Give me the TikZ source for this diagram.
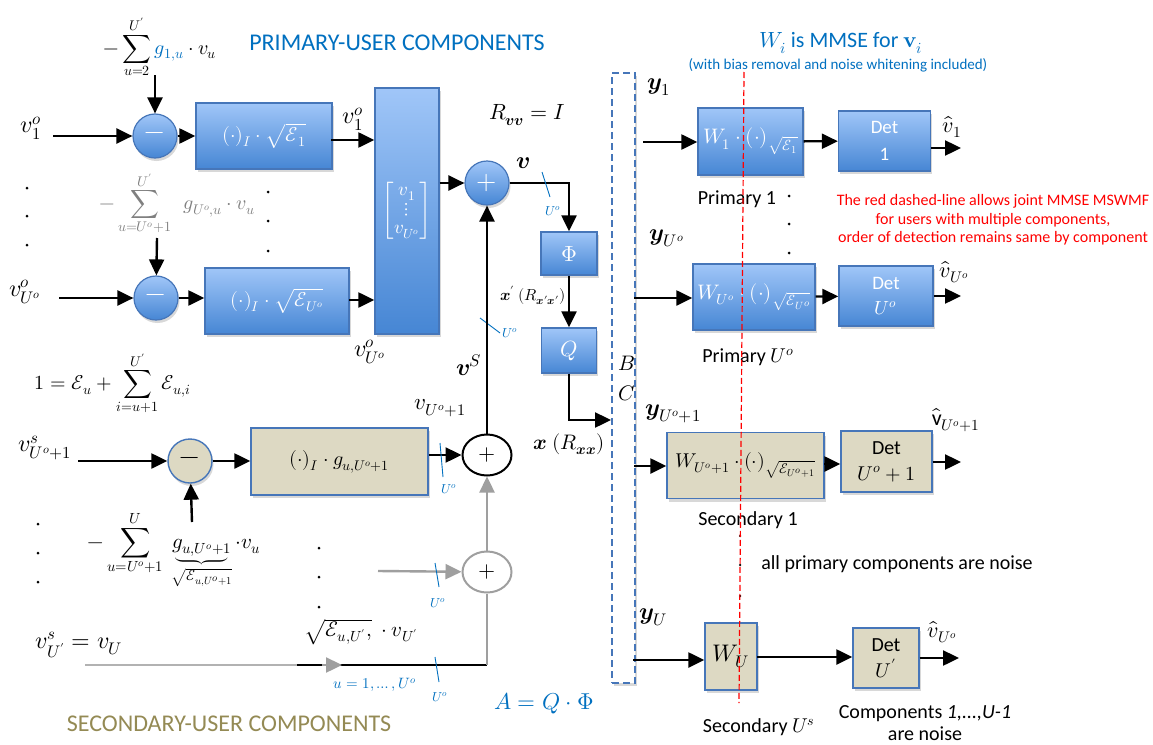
\documentclass[tikz,border=0pt]{standalone}
\usepackage{amsmath}
\usepackage{unicode-math}
\setmainfont{Carlito}
\setmathfont{Latin Modern Math}
\usetikzlibrary{arrows.meta,shadows,shapes.geometric}
\definecolor{pblue}{RGB}{0,112,192}
\definecolor{olivec}{RGB}{148,138,84}
\definecolor{bxtop}{RGB}{160,198,248}
\definecolor{bxbot}{RGB}{70,134,212}
\definecolor{bxdraw}{RGB}{70,118,185}
\definecolor{tanc}{RGB}{221,217,195}
\newcommand\fsz[1]{\fontsize{#1}{#1}\selectfont}
\tikzset{
  lab/.style={inner sep=0pt},
  shd/.style={drop shadow={opacity=0.3,shadow xshift=1.5pt,shadow yshift=-3pt}},
  bbox/.style={rectangle, draw=bxdraw, line width=1.4pt, top color=bxtop, bottom color=bxbot, text=white, shd, inner sep=0pt},
  tbox/.style={rectangle, draw=bxdraw, line width=1.4pt, fill=tanc, text=black, shd, inner sep=0pt},
  bcirc/.style={circle, draw=bxdraw, line width=1.2pt, top color=bxtop, bottom color=bxbot, text=white, minimum size=44pt, shd, inner sep=0pt},
  tcirc/.style={circle, draw=bxdraw, line width=1.4pt, fill=tanc, minimum size=44pt, shd, inner sep=0pt},
  kell/.style={ellipse, draw=black, line width=2pt, fill=white, minimum width=49pt, minimum height=41pt, inner sep=0pt},
  gell/.style={ellipse, draw=gray!75, line width=2pt, fill=white, minimum width=49pt, minimum height=41pt, inner sep=0pt},
  arr/.style={line width=2.4pt, -{Triangle[length=16pt,width=15pt]}},
  garr/.style={line width=2.4pt, draw=gray!75, -{Triangle[length=16pt,width=15pt]}},
  tickm/.style={draw=pblue, line width=0.9pt},
  ulab/.style={text=pblue, font=\fsz{13}, inner sep=0pt},
  pdot/.style={circle, fill=black, minimum size=3pt, inner sep=0pt},
}
\begin{document}
\begin{tikzpicture}[x=1pt,y=-1pt]
\useasboundingbox (0,0) rectangle (1153,744);
\fill[white] (0,0) rectangle (1153,744);

% titles
\node[lab,font=\fsz{24},text=pblue] (ptitle) at (397,43) {PRIMARY-USER COMPONENTS};
\node[lab,font=\fsz{24},text=olivec] (stitle) at (229,724) {SECONDARY-USER COMPONENTS};

% ---------- primary left
\node[lab,font=\fsz{20}] (sumA) at (160,47) {$-\displaystyle\sum_{u=2}^{U'}{\color{pblue}g_{1,u}}\cdot v_u$};
\coordinate (sAe) at (155,75);
\node[bcirc,font=\fsz{26}] (c1) at (155,136) {$-$};
\node[lab,font=\fsz{24}] (lv1) at (31,128) {$v_1^o$};
\coordinate (in1) at (53,136);
\draw[arr] (in1) -- (c1);
\draw[arr] (sAe) -- (c1);
\node[bbox,minimum width=136pt,minimum height=66pt,font=\fsz{20}] (b1) at (264,136) {$(\cdot)_I\cdot\sqrt{\mathcal{E}_1}$};
\draw[arr] (c1) -- (b1);
\node[bbox,minimum width=64pt,minimum height=246pt,font=\fsz{19}] (tall) at (407,211) {$\begin{bmatrix}v_1\\ \vdots\\ v_{U^o}\end{bmatrix}$};
\coordinate (b1o) at (331,140);
\draw[arr] (b1o) -- (b1o -| tall.west);
\node[lab,font=\fsz{24}] (lv1o) at (353,119) {$v_1^o$};

\node[lab,font=\fsz{20},text=gray] (sumB) at (177,203) {$-\displaystyle\sum_{u=U^o+1}^{U'}\ \ g_{U^o,u}\cdot v_u$};
\coordinate (sBe) at (157,238);
\node[bcirc,font=\fsz{26}] (c2) at (156,298) {$-$};
\draw[arr] (sBe) -- (c2);
\node[lab,font=\fsz{24}] (lvU) at (25,292) {$v_{U^o}^o$};
\coordinate (in2) at (59,298);
\draw[arr] (in2) -- (c2);
\node[bbox,minimum width=144pt,minimum height=66pt,font=\fsz{20}] (b2) at (277,301) {$(\cdot)_I\cdot\sqrt{\mathcal{E}_{U^o}}$};
\draw[arr] (c2) -- (c2 -| b2.west);
\coordinate (b2o) at (349,300);
\draw[arr] (b2o) -- (b2o -| tall.west);
\node[lab,font=\fsz{24}] (lvUo) at (370,352) {$v_{U^o}^o$};

\foreach \yy in {188,216,245} \node[pdot] at (27,\yy) {};
\foreach \yy in {192,221,251} \node[pdot] at (268,\yy) {};

% ---------- middle
\node[lab,font=\fsz{22}] (Rvv) at (527,115) {$R_{\symbfit{v}\symbfit{v}}=I$};
\node[bcirc,font=\fsz{26}] (cp) at (487,183) {$+$};
\draw[arr] (tall.east |- cp) -- (cp);
\node[lab,font=\fsz{24}] (lv) at (523,163) {$\symbfit{v}$};
\node[bbox,minimum width=56pt,minimum height=43pt,font=\fsz{22}] (phi) at (569,253.5) {$\Phi$};
\draw[arr] (cp) -| (phi);
\node[lab,font=\fsz{16}] (lxp) at (533,295) {$\symbfit{x}'\ (R_{\symbfit{x}'\symbfit{x}'})$};
\node[bbox,minimum width=55pt,minimum height=45pt,font=\fsz{22}] (Q) at (569,350.5) {$Q$};
\draw[arr] (phi) -- (Q);
\node[draw=bxdraw,line width=1.4pt,dash pattern=on 7pt off 4pt,fill=white,minimum width=23pt,minimum height=610pt,shd] (BC) at (623.5,378) {};
\coordinate (qin) at (611,420);
\draw[arr] (Q) |- (qin);
\node[lab,font=\fsz{21}] (lB) at (627,363) {$B$};
\node[lab,font=\fsz{21}] (lC) at (627,393) {$C$};
\node[lab,font=\fsz{21}] (lx) at (569,444) {$\symbfit{x}\ (R_{\symbfit{x}\symbfit{x}})$};

\draw[tickm] (542,172) -- (550,197);
\node[ulab] (t1) at (553,211) {$U^o$};
\draw[tickm] (480,318) -- (500,333);
\node[ulab] (t2) at (510,333) {$U^o$};

\node[lab,font=\fsz{24}] (lvS) at (469,365) {$\symbfit{v}^S$};
\node[lab,font=\fsz{23}] (lvUp1) at (440,408) {$v_{U^o+1}$};

% ---------- secondary left
\node[lab,font=\fsz{20}] (ltot) at (113,383) {$1=\mathcal{E}_u+\displaystyle\sum_{i=u+1}^{U'}\mathcal{E}_{u,i}$};
\node[lab,font=\fsz{24}] (lvs) at (45,448) {$v^s_{U^o+1}$};
\coordinate (in3) at (78,461);
\node[tcirc,font=\fsz{26}] (cs) at (190,461) {$-$};
\draw[arr] (in3) -- (cs);
\node[tbox,minimum width=177pt,minimum height=67pt,font=\fsz{20}] (tb) at (339.5,461.5) {$(\cdot)_I\cdot g_{u,U^o+1}$};
\draw[arr] (cs) -- (cs -| tb.west);
\node[kell,font=\fsz{22}] (pk) at (487,455) {$+$};
\draw[arr] (tb.east |- pk) -- (pk);
\draw[arr] (pk) -- (cp);
\node[gell,font=\fsz{22}] (pg) at (487,572) {$+$};
\draw[garr] (pg) -- (pk);
\coordinate (gin) at (378,571);
\draw[garr] (gin) -- (pg);

\node[lab,font=\fsz{21}] (sumC) at (174,550) {$-\displaystyle\sum_{u=U^o+1}^{U}\ \underbrace{g_{u,U^o+1}}_{\sqrt{\mathcal{E}_{u,U^o+1}}}\cdot v_u$};
\coordinate (sCe) at (192,522);
\draw[arr] (sCe) -- (cs);
\foreach \yy in {524,553,582} \node[pdot] at (38,\yy) {};
\foreach \yy in {548,577,607} \node[pdot] at (319,\yy) {};

\node[lab,font=\fsz{24}] (lvsU) at (79,645) {$v^s_{U'}=v_U$};
\node[lab,font=\fsz{21}] (lsq) at (361,632) {$\sqrt{\mathcal{E}_{u,U'},}\ \cdot v_{U'}$};
\coordinate (bl0) at (85,665);
\coordinate (bl1) at (297,665);
\coordinate (bl2) at (487,665);
\draw[line width=2.4pt, gray!60] (bl0) -- (bl1);
\draw[line width=2.4pt] (bl1) -- (bl2);
\draw[line width=2.4pt, gray!75] (bl2) -- (pg);
\coordinate (ah0) at (322,665);
\coordinate (ah1) at (342,665);
\draw[garr] (ah0) -- (ah1);
\node[lab,text=pblue,font=\fsz{15}] (lu1) at (375,685) {$u=1,\dots,U^o$};
\node[lab,text=pblue,font=\fsz{23}] (lA) at (544,703) {$A=Q\cdot\Phi$};

\draw[tickm] (440,443) -- (443,477);
\node[ulab] (t3) at (449,489) {$U^o$};
\draw[tickm] (435,563) -- (439,587);
\node[ulab] (t4) at (438,603) {$U^o$};
\draw[tickm] (435,657) -- (439,682);
\node[ulab] (t5) at (440,697) {$U^o$};

% ---------- right side
\node[lab,text=pblue,font=\fsz{22}] (lW) at (841,43) {$W_i$ is MMSE for $\symbf{v}_i$};
\node[lab,text=pblue,font=\fsz{15}] (lW2) at (838,65) {(with bias removal and noise whitening included)};

\node[lab,font=\fsz{24}] (ly1) at (659,87) {$\symbfit{y}_1$};
\coordinate (o1) at (643,142);
\node[bbox,minimum width=105pt,minimum height=67pt,font=\fsz{21}] (W1) at (750.5,141.5) {$W_1\cdot(\cdot)_{\sqrt{\mathcal{E}_1}}$};
\draw[arr] (o1) -- (o1 -| W1.west);
\node[bbox,minimum width=92pt,minimum height=60pt,align=center,font=\fsz{19}] (D1) at (884.5,141) {Det\\[8pt]1};
\draw[arr] (W1) -- (D1);
\coordinate (e1) at (961,148);
\draw[arr] (D1.east |- e1) -- (e1);
\node[lab,font=\fsz{22}] (lh1) at (952,127) {$\hat{v}_1$};
\node[lab,font=\fsz{20}] (lp1) at (737,199) {Primary 1};
\foreach \yy in {196,224,253} \node[pdot] at (789,\yy) {};

\node[lab,text=red,align=center,font=\fontsize{16}{18.5}\selectfont] (lred) at (993,220) {The red dashed-line allows joint MMSE MSWMF\\for users with multiple components,\\order of detection remains same by component};

\node[lab,font=\fsz{24}] (lyU) at (667,238) {$\symbfit{y}_{U^o}$};
\coordinate (o2) at (634,298);
\node[bbox,minimum width=122pt,minimum height=66pt,font=\fsz{21}] (W2) at (754,297) {$W_{U^o}\cdot(\cdot)_{\sqrt{\mathcal{E}_{U^o}}}$};
\draw[arr] (o2) -- (o2 -| W2.west);
\node[bbox,minimum width=94pt,minimum height=60pt,align=center,font=\fsz{19}] (D2) at (886,296) {Det\\[6pt]$U^o$};
\draw[arr] (W2) -- (D2);
\coordinate (e2) at (961,296);
\draw[arr] (D2.east |- e2) -- (e2);
\node[lab,font=\fsz{22}] (lh2) at (954,272) {$\hat{v}_{U^o}$};
\node[lab,font=\fsz{20}] (lp2) at (748,357) {Primary $U^o$};

\node[lab,font=\fsz{24}] (lyS) at (673,414) {$\symbfit{y}_{U^o+1}$};
\coordinate (o3) at (634,466);
\node[tbox,minimum width=157pt,minimum height=66pt,font=\fsz{20}] (W3) at (745.5,465.5) {$W_{U^o+1}\cdot(\cdot)_{\sqrt{\mathcal{E}_{U^o+1}}}$};
\draw[arr] (o3) -- (o3 -| W3.west);
\node[tbox,minimum width=91pt,minimum height=61pt,align=center,font=\fsz{20}] (D3) at (886.5,461.5) {Det\\[6pt]$U^o+1$};
\coordinate (w3o) at (824,464);
\draw[arr] (w3o) -- (w3o -| D3.west);
\coordinate (e3) at (961,462);
\draw[arr] (D3.east |- e3) -- (e3);
\node[lab,font=\fsz{22}] (lh3) at (956,420) {$\hat{\mathrm{v}}_{U^o+1}$};
\node[lab,font=\fsz{20}] (ls1) at (748,520) {Secondary 1};
\foreach \yy in {536,565,596} \node[pdot,minimum size=2.5pt] at (740,\yy) {};
\node[lab,font=\fsz{20}] (lnoise) at (897,564) {all primary components are noise};

\node[lab,font=\fsz{24}] (lyU2) at (653,617) {$\symbfit{y}_U$};
\coordinate (o4) at (633,660);
\node[tbox,minimum width=52pt,minimum height=67pt,font=\fsz{24}] (W4) at (731,656.5) {$W_U$};
\draw[arr] (o4) -- (o4 -| W4.west);
\node[tbox,minimum width=66pt,minimum height=60pt,align=center,font=\fsz{20}] (D4) at (886,658) {Det\\[6pt]$U'$};
\coordinate (w4o) at (757,657);
\draw[arr] (w4o) -- (w4o -| D4.west);
\coordinate (e4) at (959,658);
\draw[arr] (D4.east |- e4) -- (e4);
\node[lab,font=\fsz{22}] (lh4) at (942,632) {$\hat{v}_{U^o}$};
\node[lab,font=\fsz{20}] (lsU) at (759,727) {Secondary $U^s$};
\node[lab,font=\fsz{20},align=center] (lcomp) at (925,723) {Components \textit{1,...,U-1}\\[2pt]are noise};

% red dashed line
\coordinate (rt) at (744,72);
\coordinate (rb) at (739,703);
\draw[red, line width=1.2pt, dash pattern=on 6pt off 3pt] (rt) -- (rb);
\end{tikzpicture}
\end{document}
